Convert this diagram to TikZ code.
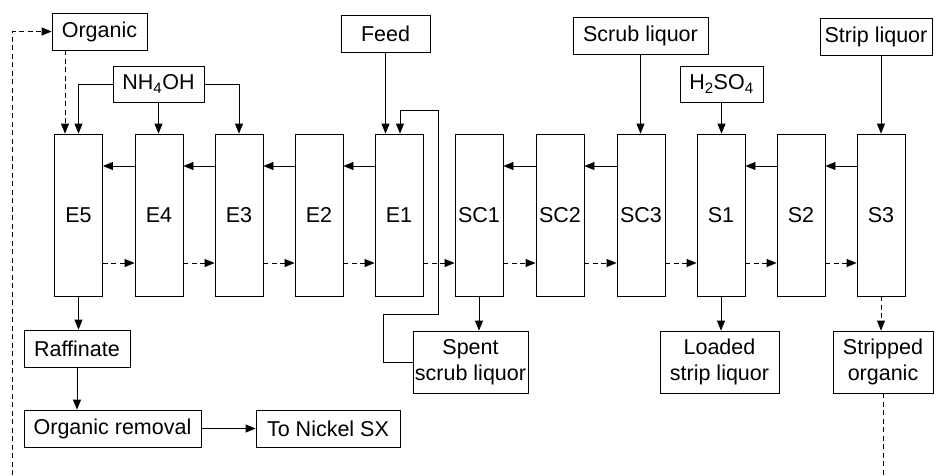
\documentclass[tikz,border=0pt]{standalone}
\usepackage{fontspec}
\setmainfont{Liberation Sans}
\usetikzlibrary{arrows.meta}

\begin{document}
\begin{tikzpicture}[x=1pt, y=-1pt,
  every node/.style={font=\fontsize{21.5}{26}\selectfont},
  box/.style={draw, line width=0.8pt, inner sep=0pt, align=center, minimum height=37pt},
  tallbox/.style={box, minimum height=62pt},
  stage/.style={draw, line width=0.8pt, inner sep=0pt, minimum width=48pt, minimum height=162pt},
  flow/.style={line width=0.8pt, -{Triangle[length=10pt,width=8pt]}},
  orgflow/.style={flow, dash pattern=on 5pt off 3.5pt}
]
\useasboundingbox (0,0) rectangle (939,475);

% feed and reagent boxes along the top
\node[box, minimum width=95pt]  (org)   at (99.5,31.5) {Organic};
\node[box, minimum width=91pt, minimum height=36pt] (nh) at (158.5,84) {NH\textsubscript{4}OH};
\node[box, minimum width=89pt]  (feed)  at (385.5,34) {Feed};
\node[box, minimum width=135pt] (scrub) at (640.5,35.5) {Scrub liquor};
\node[box, minimum width=83pt, minimum height=36pt] (acid) at (721.5,84) {H\textsubscript{2}SO\textsubscript{4}};
\node[box, minimum width=112pt] (strip) at (876,36.5) {Strip liquor};

% mixer-settler stages
\foreach \name/\x in {E5/78.5, E4/159, E3/239, E2/319, E1/399, SC1/479, SC2/560, SC3/641, S1/721, S2/801, S3/881}
  \node[stage] (\name) at (\x,215) {\name};

% product boxes
\node[box, minimum width=106pt] (raff)   at (77,348.5) {Raffinate};
\node[box, minimum width=177pt] (orem)   at (112.5,428.5) {Organic removal};
\node[box, minimum width=144pt] (nickel) at (328,428.5) {To Nickel SX};
\node[tallbox, minimum width=115pt] (spent)    at (470.5,362) {Spent\\scrub liquor};
\node[tallbox, minimum width=119pt] (loaded)   at (719.5,362) {Loaded\\strip liquor};
\node[tallbox, minimum width=100pt] (stripped) at (883,362) {Stripped\\organic};

\coordinate (lbot) at (12,475);
\coordinate (rbot) at (883,475);

% organic recycle
\draw[orgflow] (lbot) |- (org.west);
\draw[orgflow] ([xshift=-13.5pt]E5.north |- org.south) -- ([xshift=-13.5pt]E5.north);

% ammonia additions
\draw[flow] (nh.west) -| (E5.north);
\draw[flow] (nh.south) -- (nh.south |- E4.north);
\draw[flow] (nh.east) -| (E3.north);

% feed, scrub, acid, strip liquor
\draw[flow] (feed.south) -- (feed.south |- E1.north);
\draw[flow] (spent.west) -| (383,314) -| (438,110) -| ([xshift=1pt]E1.north);
\draw[flow] (scrub.south) -- (scrub.south |- SC3.north);
\draw[flow] (acid.south) -- (acid.south |- S1.north);
\draw[flow] (S3.north |- strip.south) -- (S3.north);

% aqueous flow (right to left)
\foreach \a/\b in {E4/E5, E3/E4, E2/E3, E1/E2, SC2/SC1, SC3/SC2, S2/S1, S3/S2}
  \draw[flow] ([yshift=49pt]\a.west) -- ([yshift=49pt]\b.east);

% organic flow (left to right)
\foreach \a/\b in {E5/E4, E4/E3, E3/E2, E2/E1, E1/SC1, SC1/SC2, SC2/SC3, SC3/S1, S1/S2, S2/S3}
  \draw[orgflow] ([yshift=-48pt]\a.east) -- ([yshift=-48pt]\b.west);

% outlet streams
\draw[flow] (E5.south) -- (E5.south |- raff.north);
\draw[flow] (raff.south) -- (raff.south |- orem.north);
\draw[flow] (orem.east) -- (nickel.west);
\draw[flow] (SC1.south) -- (SC1.south |- spent.north);
\draw[flow] (S1.south) -- (S1.south |- loaded.north);
\draw[orgflow] (S3.south) -- (S3.south |- stripped.north);
\draw[line width=0.8pt, dash pattern=on 5pt off 3.5pt] (stripped.south) -- (rbot);
\end{tikzpicture}
\end{document}
